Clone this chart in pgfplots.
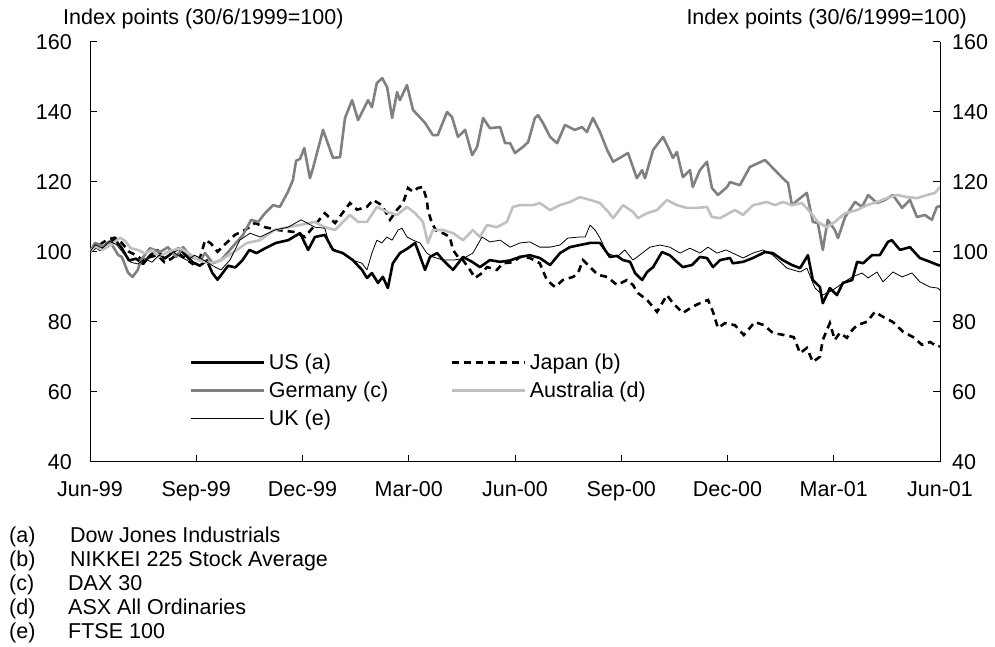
\documentclass[border=0pt]{standalone}
\usepackage{fontspec}
\setmainfont{Liberation Sans}
\usepackage{pgfplots}
\pgfplotsset{compat=1.18}
\newcommand\lf{\fontsize{21.5}{24}\selectfont}
\definecolor{dax}{RGB}{128,128,128}
\definecolor{asx}{RGB}{192,192,192}
\begin{document}
\begin{tikzpicture}
\path[use as bounding box] (0pt,0pt) rectangle (995pt,646pt);
\begin{axis}[at={(90pt,184.3pt)}, anchor=south west,
  width=850pt, height=420pt, scale only axis,
  xmin=0, xmax=24, ymin=40, ymax=160,
  axis x line*=bottom, axis y line*=left,
  tick align=inside, major tick length=7pt,
  xtick={0,3,...,24},
  xticklabels={Jun-99,Sep-99,Dec-99,Mar-00,Jun-00,Sep-00,Dec-00,Mar-01,Jun-01},
  ytick={40,60,...,160},
  tick style={black, line width=0.8pt},
  axis line style={black, line width=0.8pt},
  /pgf/number format/assume math mode=true,
  ticklabel style={font=\lf},
  yticklabel style={anchor=east, inner sep=0pt, xshift=-18pt},
  xticklabel style={anchor=north, inner sep=0pt, yshift=-20pt},
  legend columns=2,
  legend style={at={(0.1165,0.262)}, anchor=north west, draw=none, fill=none,
    font=\lf, inner sep=0pt, row sep=6.8pt, column sep=2pt,
    nodes={inner sep=2pt},
    /tikz/every even column/.append style={column sep=60pt}},
  legend image code/.code={\draw[#1] (0pt,0pt) -- (73pt,0pt);},
  legend cell align=left,
]
\addplot[black, line width=2.6pt, line join=round] coordinates {(0,100)(0.14,101.5)(0.3,100.5)(0.5,102.5)(0.7,103.5)(0.9,101)(1.1,97.5)(1.3,98)(1.5,96.5)(1.7,99)(1.9,100.5)(2.1,98)(2.3,99.5)(2.5,101)(2.7,99)(2.9,97)(3.1,96)(3.3,97.5)(3.45,94)(3.6,92)(3.75,94)(3.9,96)(4.1,95.5)(4.3,97.5)(4.5,100.5)(4.7,99.6)(4.95,101)(5.25,102.5)(5.6,103.3)(5.93,105.3)(6.16,100.5)(6.35,104.2)(6.63,104.8)(6.86,100.5)(7.14,99.6)(7.42,97.6)(7.68,94.8)(7.82,92.5)(7.96,93.9)(8.13,91.1)(8.27,92.8)(8.41,89.6)(8.55,96.7)(8.75,99.6)(8.98,101)(9.18,102.5)(9.46,94.8)(9.6,98.5)(9.8,99.6)(9.97,97.6)(10.25,94.8)(10.53,98.5)(10.79,97.1)(11.01,95.6)(11.29,97.6)(11.58,97.1)(11.86,97.5)(12.14,98.5)(12.42,99)(12.7,98.2)(12.99,96.2)(13.27,99.6)(13.55,101.3)(13.83,101.9)(14.12,102.5)(14.4,102.5)(14.54,100.5)(14.68,98.5)(14.88,98.8)(15.05,97.6)(15.25,97.1)(15.39,93.9)(15.59,91.9)(15.73,94.2)(15.9,95.6)(16.15,99.9)(16.37,99)(16.57,97.1)(16.74,95.6)(17.0,96.2)(17.22,98.5)(17.42,98.2)(17.59,95.6)(17.79,97.6)(18.07,98.2)(18.15,96.7)(18.44,97.1)(18.72,98.2)(19.06,99.9)(19.28,99.6)(19.56,97.6)(19.82,96.2)(20.05,95.3)(20.27,99)(20.41,91.9)(20.61,89.9)(20.69,85.3)(20.89,89.6)(21.09,87.6)(21.26,91.1)(21.52,91.9)(21.66,97.1)(21.83,96.7)(22.08,99)(22.3,99)(22.53,102.8)(22.64,103.3)(22.87,100.5)(23.15,101.3)(23.43,98.2)(23.72,97.1)(23.94,96.2)(24,96)};
\addlegendentry{US (a)}
\addplot[black, line width=2.6pt, dash pattern=on 7pt off 5pt] coordinates {(0,100)(0.2,101.5)(0.5,103.5)(0.7,104)(0.9,102.5)(1.1,100)(1.3,99)(1.5,97.5)(1.7,98.5)(1.9,99)(2.1,97)(2.3,98)(2.5,99.5)(2.7,98)(2.9,96.5)(3.1,98)(3.25,103.3)(3.4,102.5)(3.6,100)(3.8,102)(4.09,104.8)(4.38,106.2)(4.66,108.2)(4.94,107)(5.31,106.2)(5.79,105.6)(6.07,104.2)(6.3,107)(6.63,111)(6.92,108.2)(7.2,112)(7.34,113.9)(7.54,112)(7.82,112.8)(7.99,114.8)(8.24,113.3)(8.47,109.1)(8.67,112)(8.84,113.9)(8.98,118.2)(9.12,117.1)(9.26,118.2)(9.4,118.5)(9.51,114.8)(9.54,112)(9.65,108.2)(9.8,105.6)(9.97,105.3)(10.16,104.2)(10.25,100.5)(10.39,98.5)(10.53,97.6)(10.73,94.8)(10.87,92.5)(11.07,93.9)(11.21,95.6)(11.49,94.8)(11.66,96.7)(11.94,97)(12.14,98.5)(12.42,98.2)(12.7,96.7)(12.9,91.9)(13.13,89.9)(13.35,91.9)(13.64,92.8)(13.78,93.9)(13.92,97.6)(14.12,95.6)(14.34,93.4)(14.6,92.8)(14.88,90.5)(15.16,91.9)(15.33,90.5)(15.47,88.2)(15.73,86.2)(16.01,82.8)(16.29,87.6)(16.46,85.3)(16.74,82.5)(17.0,84.2)(17.22,85.3)(17.45,86.2)(17.59,82.8)(17.73,78.2)(17.93,79.6)(18.21,79)(18.46,76.2)(18.77,79.9)(19.03,79)(19.28,76.8)(19.59,76.2)(19.87,75.6)(20.05,71)(20.24,72.5)(20.41,68.5)(20.61,70)(20.69,74.8)(20.89,79.6)(21.03,74.8)(21.17,76.8)(21.37,75.4)(21.52,77.6)(21.66,79)(21.94,80)(22.16,82.8)(22.39,81.4)(22.67,79.9)(22.96,77.1)(23.24,75.6)(23.49,73.4)(23.72,74.2)(23.94,72.8)(24,73)};
\addlegendentry{Japan (b)}
\addplot[dax, line width=2.6pt, line join=round] coordinates {(0,100)(0.14,102.5)(0.4,101.5)(0.56,103)(0.8,99)(0.9,98.5)(1.07,94.1)(1.2,92.8)(1.35,94.8)(1.44,97.6)(1.69,101)(1.98,99.9)(2.2,101.3)(2.43,98.5)(2.63,101.3)(2.85,98.5)(3.11,97.6)(3.25,99.6)(3.47,96.7)(3.7,97.6)(3.95,100.5)(4.12,102.5)(4.32,104.8)(4.55,109.1)(4.75,108.5)(4.94,111)(5.17,113.3)(5.36,112.8)(5.59,117.1)(5.73,120.5)(5.82,126)(5.93,126.5)(6.05,129.6)(6.21,121)(6.3,124)(6.58,134.8)(6.86,126.8)(7.06,127)(7.2,138.2)(7.4,143.3)(7.57,137.6)(7.85,143.3)(7.96,141.3)(8.1,148.2)(8.25,149.6)(8.39,147)(8.53,138.2)(8.67,145.6)(8.75,143.3)(8.95,147.6)(9.12,140.5)(9.46,136.8)(9.68,133.3)(9.82,133.3)(10.08,139.9)(10.22,138.5)(10.39,132.8)(10.59,134.8)(10.79,127.6)(10.93,129.9)(11.1,138.2)(11.29,135.3)(11.58,135.6)(11.72,131)(11.86,131)(12.0,128.2)(12.22,129.9)(12.37,131.3)(12.56,138.2)(12.65,139)(12.79,136.8)(12.99,132.8)(13.19,131)(13.41,136.2)(13.69,134.8)(13.89,135.6)(14.03,134.2)(14.2,138.2)(14.4,134.2)(14.6,129.1)(14.77,125.7)(14.96,126.8)(15.19,128.2)(15.44,121)(15.59,123.3)(15.67,121)(15.9,129.1)(16.18,132.8)(16.32,129.9)(16.46,126.8)(16.57,128.5)(16.74,121.3)(16.94,123.3)(17.02,118.5)(17.22,123.3)(17.42,125.7)(17.56,118.2)(17.73,116.2)(17.99,118.5)(18.07,119.9)(18.35,119)(18.63,124.2)(19.06,126.2)(19.28,123.9)(19.56,121)(19.71,119.6)(19.82,113.3)(19.99,114.8)(20.24,116.8)(20.41,108.5)(20.55,108.2)(20.69,100.5)(20.83,109.1)(21.03,106.2)(21.12,103.9)(21.32,109.9)(21.6,114.2)(21.8,112.8)(21.97,116.2)(22.22,113.9)(22.45,114.8)(22.67,116.2)(22.93,112.5)(23.15,114.8)(23.35,109.9)(23.57,110.5)(23.77,109.1)(23.91,112.8)(24,113)};
\addlegendentry{Germany (c)}
\addplot[asx, line width=2.6pt, line join=round] coordinates {(0,100)(0.15,101.5)(0.35,100.5)(0.6,102)(0.85,104)(1.0,103)(1.15,101)(1.35,100.5)(1.55,99.5)(1.75,100.5)(1.95,98.5)(2.2,100)(2.54,101)(2.8,99.5)(3.05,97.6)(3.4,96.7)(3.7,97.6)(4.15,100.5)(4.43,102.5)(4.8,103.3)(5.2,106.2)(5.59,107)(5.9,107.6)(6.35,108.5)(6.63,107)(6.92,106.2)(7.2,109.1)(7.34,110.5)(7.57,108.5)(7.82,108.5)(8.1,112.8)(8.38,111.4)(8.67,110.5)(8.95,112.8)(9.18,111)(9.4,108.5)(9.54,102.5)(9.68,106.2)(9.97,106.2)(10.25,105.3)(10.53,103.3)(10.81,106.2)(11.01,104.2)(11.21,107.6)(11.49,107)(11.77,108.5)(11.94,112.8)(12.14,113.3)(12.51,113.3)(12.7,113.9)(12.99,111.9)(13.27,113.3)(13.55,114.2)(13.83,115.6)(14.12,114.8)(14.4,113.9)(14.63,111.4)(14.77,109.6)(15.05,113.3)(15.33,111.4)(15.47,109.6)(15.73,111)(16.01,111.9)(16.29,114.8)(16.57,113.3)(16.86,112.5)(17.14,112.5)(17.42,112.8)(17.56,109.9)(17.79,109.6)(18.21,111.9)(18.44,110.5)(18.72,113.3)(19.11,114.2)(19.34,113.3)(19.56,114.2)(19.82,113.3)(20.1,113.9)(20.33,111.4)(20.55,108.5)(20.8,107)(21.03,108.5)(21.32,111)(21.66,111.9)(21.94,113.3)(22.22,114.2)(22.5,115.3)(22.79,116.2)(23.07,115.6)(23.35,115.3)(23.63,116.2)(23.86,116.8)(24,118.5)};
\addlegendentry{Australia (d)}
\addplot[black, line width=0.8pt, line join=round] coordinates {(0,100)(0.15,102)(0.35,101)(0.55,103)(0.75,102)(0.95,99.5)(1.15,97)(1.35,96.5)(1.55,98)(1.75,97)(1.95,99)(2.15,98)(2.35,100)(2.55,98.5)(2.75,97.5)(2.95,99)(3.15,98)(3.35,96.7)(3.55,95.5)(3.7,94.8)(3.95,97.6)(4.23,103.3)(4.52,105.3)(4.8,104.2)(5.22,106.2)(5.59,107)(5.96,109.1)(6.35,107)(6.63,106.7)(6.78,101.3)(7.11,99.6)(7.42,97.6)(7.68,96.7)(7.82,94.8)(7.96,99.6)(8.1,103.3)(8.24,102.5)(8.38,104.2)(8.53,103.3)(8.7,106.2)(8.81,106.7)(8.95,104.2)(9.12,103.3)(9.32,102.5)(9.51,99.6)(9.68,98.5)(9.97,97.6)(10.25,97.6)(10.53,98)(10.81,99.6)(11.07,104.2)(11.29,102.8)(11.58,103.3)(11.86,101.3)(12.14,102.5)(12.42,102.8)(12.7,101.3)(12.99,101.3)(13.27,101.9)(13.49,103.9)(13.83,104.2)(13.98,104.2)(14.12,107.6)(14.26,106.2)(14.4,103.9)(14.6,99.6)(14.88,98.5)(15.1,100.5)(15.33,97.6)(15.59,99.6)(15.81,101.3)(16.09,101.9)(16.37,101.3)(16.66,99.6)(16.94,101)(17.22,99.6)(17.45,101.3)(17.7,99.6)(17.96,100.5)(18.44,98.2)(18.72,99.6)(19.0,100.5)(19.28,99)(19.68,95.3)(20.05,94.2)(20.24,95.3)(20.47,89.6)(20.69,87.6)(20.97,89)(21.26,91.1)(21.52,92.8)(21.8,93.9)(21.97,92.5)(22.22,94.2)(22.39,91.4)(22.67,94.2)(22.93,92.8)(23.21,93.9)(23.43,91.4)(23.72,89.9)(23.94,89.6)(24,89)};
\addlegendentry{UK (e)}
\end{axis}
\begin{axis}[at={(90pt,184.3pt)}, anchor=south west,
  width=850pt, height=420pt, scale only axis,
  xmin=0, xmax=24, ymin=40, ymax=160,
  axis x line=none, axis y line*=right,
  tick align=inside, major tick length=7pt,
  ytick={40,60,...,160},
  tick style={black, line width=0.8pt},
  axis line style={black, line width=0.8pt},
  /pgf/number format/assume math mode=true,
  ticklabel style={font=\lf},
  yticklabel style={anchor=west, inner sep=0pt, xshift=12pt},
]
\end{axis}
\begin{scope}[font=\lf, inner sep=0pt]
\node[anchor=base west] at (63pt,621pt) {Index points (30/6/1999=100)};
\node[anchor=base east] at (967pt,621pt) {Index points (30/6/1999=100)};
\node[anchor=base west] at (9pt,104pt) {(a)};
\node[anchor=base west] at (70pt,104pt) {Dow Jones Industrials};
\node[anchor=base west] at (9pt,80pt) {(b)};
\node[anchor=base west] at (70pt,80pt) {NIKKEI 225 Stock Average};
\node[anchor=base west] at (9pt,56pt) {(c)};
\node[anchor=base west] at (68pt,56pt) {DAX 30};
\node[anchor=base west] at (9pt,32pt) {(d)};
\node[anchor=base west] at (68pt,32pt) {ASX All Ordinaries};
\node[anchor=base west] at (9pt,8pt) {(e)};
\node[anchor=base west] at (68pt,8pt) {FTSE 100};
\end{scope}
\end{tikzpicture}
\end{document}
